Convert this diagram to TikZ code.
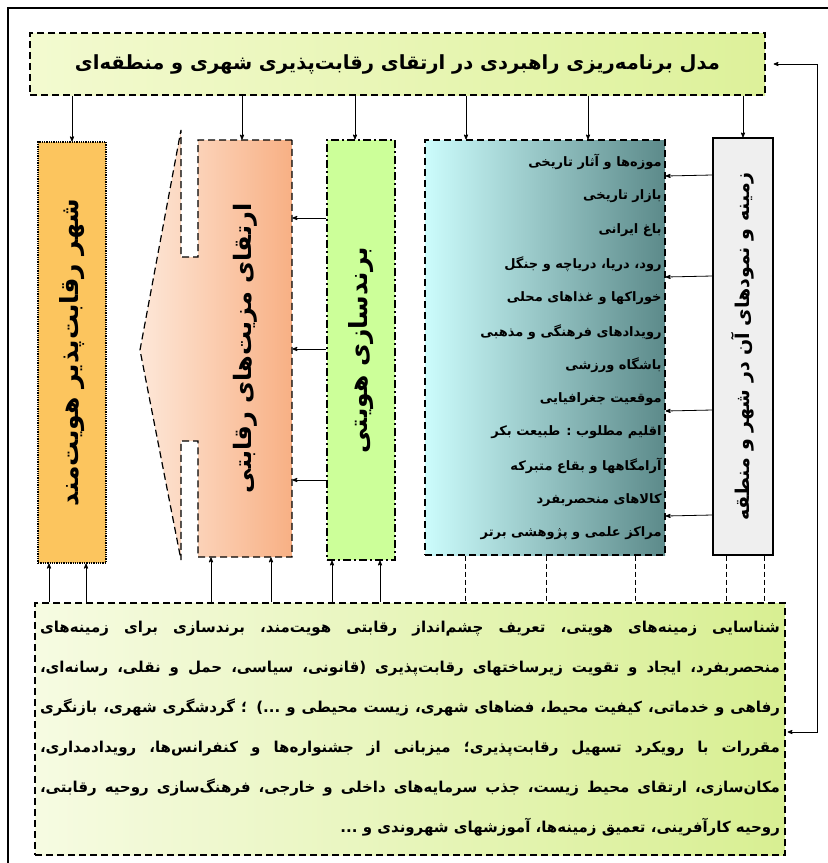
\documentclass[tikz,border=0pt]{standalone}
\usepackage{fontspec}
\usepackage{tikz}
\usetikzlibrary{shapes,arrows}
\TeXXeTstate=1
\newfontfamily\fa[Script=Arabic]{DejaVu Sans}
\newcommand*{\R}[1]{\beginR #1\endR}
\newcommand*{\jl}[1]{\hbox to 740pt{\R{#1}}}
\newcommand*{\rl}[1]{\hbox to 740pt{\hfill\R{#1}}}
\definecolor{titleL}{HTML}{F3FAD0}
\definecolor{titleR}{HTML}{DDF19A}
\definecolor{cityC}{HTML}{FCC55E}
\definecolor{advL}{HTML}{FDE7D8}
\definecolor{advR}{HTML}{F8B084}
\definecolor{brandC}{HTML}{CCFF99}
\definecolor{assetL}{HTML}{CCFCFC}
\definecolor{assetR}{HTML}{5C8A8A}
\definecolor{ctxC}{HTML}{EFEFEF}
\definecolor{actL}{HTML}{F6FBE2}
\definecolor{actR}{HTML}{D8EF92}
\tikzstyle{dashbox} = [draw, line width=1.2pt, dash pattern=on 7pt off 4pt]
\tikzstyle{block} = [rectangle, inner sep=0pt]
\tikzstyle{vtext} = [font=\fa\bfseries\fontsize{25}{29}\selectfont]
\tikzstyle{item} = [anchor=east, inner sep=0pt, font=\fa\bfseries\fontsize{13}{16}\selectfont]
\tikzstyle{link} = [dash pattern=on 5pt off 3pt, line width=0.9pt]

\begin{document}
\begin{tikzpicture}[x=1pt, y=-1pt, >=stealth', thick]
    \useasboundingbox (0,0) rectangle (828,863);
    \draw [line width=2pt] (8,870) -- (8,8) -- (835,8);

    \node [block, dashbox, left color=titleL, right color=titleR, minimum width=735pt, minimum height=62pt] (model) at (397.5,64)
        {\fa\bfseries\fontsize{19.5}{23}\selectfont\R{مدل برنامه‌ریزی راهبردی در ارتقای رقابت‌پذیری شهری و منطقه‌ای}};

    % boxes, left to right
    \node [block, vtext, draw, densely dotted, line width=1.3pt, fill=cityC, minimum width=68pt, minimum height=421pt] (city) at (72,352.5)
        {\rotatebox{90}{\R{شهر رقابت‌پذیر هویت‌مند}}};
    \draw [dashbox, left color=advL, right color=advR] (292,140) -- (198,140) -- (198,257) -- (181,257) -- (181,130) -- (140,350)
        -- (181,560) -- (181,441) -- (198,441) -- (198,557) -- (292,557) -- cycle;
    \node [block, vtext, font=\fa\bfseries\fontsize{24}{28}\selectfont, minimum width=94pt, minimum height=417pt] (adv) at (245,348.5)
        {\rotatebox{90}{\R{ارتقای مزیت‌های رقابتی}}};
    \node [block, vtext, draw, line width=1.2pt, dash pattern=on 8pt off 3pt on 2pt off 3pt, fill=brandC, minimum width=68pt, minimum height=420pt] (brand) at (361,350)
        {\rotatebox{90}{\R{برندسازی هویتی}}};
    \node [block, dashbox, left color=assetL, right color=assetR, minimum width=240pt, minimum height=415pt] (assets) at (545,347.5) {};
    \node [block, draw, line width=1.2pt, fill=ctxC, minimum width=60pt, minimum height=417pt, font=\fa\bfseries\fontsize{19}{22}\selectfont] (context) at (743,346.5)
        {\rotatebox{90}{\R{زمینه و نمودهای آن در شهر و منطقه}}};

    % items of the assets box
    \node [item] (item1) at (662,162) {\R{موزه‌ها و آثار تاریخی}};
    \node [item] (item2) at (662,196) {\R{بازار تاریخی}};
    \node [item] (item3) at (662,230) {\R{باغ ایرانی}};
    \node [item] (item4) at (662,264) {\R{رود، دریا، دریاچه و جنگل}};
    \node [item] (item5) at (662,298) {\R{خوراکها و غذاهای محلی}};
    \node [item] (item6) at (662,332) {\R{رویدادهای فرهنگی و مذهبی}};
    \node [item] (item7) at (662,365) {\R{باشگاه ورزشی}};
    \node [item] (item8) at (662,399) {\R{موقعیت جغرافیایی}};
    \node [item] (item9) at (662,432) {\R{اقلیم مطلوب : طبیعت بکر}};
    \node [item] (item10) at (662,466) {\R{آرامگاهها و بقاع متبرکه}};
    \node [item] (item11) at (662,500) {\R{کالاهای منحصربفرد}};
    \node [item] (item12) at (662,533) {\R{مراکز علمی و پژوهشی برتر}};

    \node [block, dashbox, left color=actL, right color=actR, minimum width=750pt, minimum height=252pt] (actions) at (410,729)
        {\fa\bfseries\fontsize{15}{40}\selectfont\vbox{\baselineskip=40pt
        \jl{شناسایی زمینه‌های هویتی، تعریف چشم‌انداز رقابتی هویت‌مند، برندسازی برای زمینه‌های}
        \jl{منحصربفرد، ایجاد و تقویت زیرساختهای رقابت‌پذیری (قانونی، سیاسی، حمل و نقلی، رسانه‌ای،}
        \jl{رفاهی و خدماتی، کیفیت محیط، فضاهای شهری، زیست محیطی و ...) ؛ گردشگری شهری، بازنگری}
        \jl{مقررات با رویکرد تسهیل رقابت‌پذیری؛ میزبانی از جشنواره‌ها و کنفرانس‌ها، رویدادمداری،}
        \jl{مکان‌سازی، ارتقای محیط زیست، جذب سرمایه‌های داخلی و خارجی، فرهنگ‌سازی روحیه رقابتی،}
        \rl{روحیه کارآفرینی، تعمیق زمینه‌ها، آموزشهای شهروندی و ...}}};

    % model to the boxes
    \draw [->] (city.north |- model.south) -- (city.north);
    \draw [->] ([xshift=-3pt]adv.north |- model.south) -- ([xshift=-3pt]adv.north);
    \draw [->] ([xshift=-6pt]brand.north |- model.south) -- ([xshift=-6pt]brand.north);
    \draw [->] ([xshift=-79pt]assets.north |- model.south) -- ([xshift=-79pt]assets.north);
    \draw [->] ([xshift=43pt]assets.north |- model.south) -- ([xshift=43pt]assets.north);
    \draw [->] (context.north |- model.south) -- (context.north);

    % side links
    \draw [->] ([yshift=171.5pt]context.west) -- ([yshift=171.5pt]assets.east);
    \draw [->] ([yshift=70.5pt]context.west) -- ([yshift=70.5pt]assets.east);
    \draw [->] ([yshift=-63.5pt]context.west) -- ([yshift=-63.5pt]assets.east);
    \draw [->] ([yshift=-168.5pt]context.west) -- ([yshift=-168.5pt]assets.east);
    \draw [->] ([yshift=132pt]brand.west) -- ([yshift=132pt]brand.west -| adv.east);
    \draw [->] ([yshift=1pt]brand.west) -- ([yshift=1pt]brand.west -| adv.east);
    \draw [->] ([yshift=-130pt]brand.west) -- ([yshift=-130pt]brand.west -| adv.east);

    % actions to the boxes
    \draw [->] ([xshift=-23pt]city.south |- actions.north) -- ([xshift=-23pt]city.south);
    \draw [->] ([xshift=14pt]city.south |- actions.north) -- ([xshift=14pt]city.south);
    \draw [->] ([xshift=-34pt]adv.south |- actions.north) -- ([xshift=-34pt]adv.south);
    \draw [->] ([xshift=26pt]adv.south |- actions.north) -- ([xshift=26pt]adv.south);
    \draw [->] ([xshift=-29pt]brand.south |- actions.north) -- ([xshift=-29pt]brand.south);
    \draw [->] ([xshift=19pt]brand.south |- actions.north) -- ([xshift=19pt]brand.south);
    \draw [link] ([xshift=-80pt]assets.south) -- ([xshift=-80pt]assets.south |- actions.north);
    \draw [link] ([xshift=1pt]assets.south) -- ([xshift=1pt]assets.south |- actions.north);
    \draw [link] ([xshift=90pt]assets.south) -- ([xshift=90pt]assets.south |- actions.north);
    \draw [link] ([xshift=-17pt]context.south) -- ([xshift=-17pt]context.south |- actions.north);
    \draw [link] ([xshift=21pt]context.south) -- ([xshift=21pt]context.south |- actions.north);

    % feedback
    \draw [<->, shorten <=8pt, shorten >=2pt] (model.east) -- (817,64) |- ([yshift=-3pt]actions.east);
\end{tikzpicture}
\end{document}
